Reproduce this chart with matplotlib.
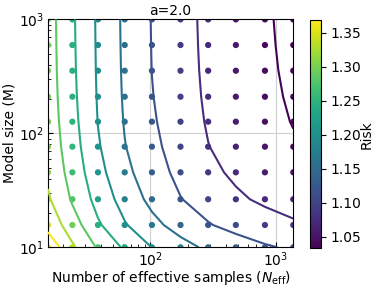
import numpy as np
import matplotlib
matplotlib.use("Agg")
import matplotlib.pyplot as plt
from matplotlib.colors import Normalize

# Effective sample counts (x) and model sizes (y) of the grid
n_eff = [15.2, 23.8, 38.1, 62.3, 102.8, 173.8, 289, 481, 821, 1383]
model_size = [10, 15.7, 26.4, 45.5, 76.4, 126.6, 209.7, 354.6, 596, 1000]

# Risk values, one row per model size (bottom row = M=10)
risk_m10 = [1.385, 1.3255, 1.2745, 1.2326, 1.1993, 1.1722, 1.1520, 1.1363, 1.1236, 1.1141]
risk_m16 = [1.3454, 1.2957, 1.2447, 1.2028, 1.1695, 1.1424, 1.1222, 1.1065, 1.0938, 1.0843]
risk_m26 = [1.3242, 1.2745, 1.2235, 1.1816, 1.1483, 1.1212, 1.1010, 1.0853, 1.0726, 1.0631]
risk_m46 = [1.3112, 1.2615, 1.2105, 1.1686, 1.1353, 1.1082, 1.0880, 1.0723, 1.0596, 1.0501]
risk_m76 = [1.3039, 1.2542, 1.2032, 1.1613, 1.1280, 1.1009, 1.0807, 1.0650, 1.0523, 1.0428]
risk_m127 = [1.2997, 1.2500, 1.1990, 1.1571, 1.1238, 1.0967, 1.0765, 1.0608, 1.0481, 1.0386]
risk_m210 = [1.2971, 1.2474, 1.1964, 1.1545, 1.1212, 1.0941, 1.0739, 1.0582, 1.0455, 1.0360]
risk_m355 = [1.2955, 1.2458, 1.1948, 1.1529, 1.1196, 1.0925, 1.0723, 1.0566, 1.0439, 1.0344]
risk_m596 = [1.2946, 1.2449, 1.1939, 1.1520, 1.1187, 1.0916, 1.0714, 1.0557, 1.0430, 1.0335]
risk_m1000 = [1.2940, 1.2443, 1.1933, 1.1514, 1.1181, 1.0910, 1.0708, 1.0551, 1.0424, 1.0329]

contour_levels = [1.04, 1.08, 1.12, 1.16, 1.20, 1.24, 1.28, 1.32, 1.36]
colorbar_range = (1.033, 1.369)

title = "a=2.0"
xlabel = r"Number of effective samples ($N_{\rm eff}$)"
ylabel = "Model size (M)"
cbar_label = "Risk"

risk = np.array([risk_m10, risk_m16, risk_m26, risk_m46, risk_m76,
                 risk_m127, risk_m210, risk_m355, risk_m596, risk_m1000])
X, Y = np.meshgrid(n_eff, model_size)

fig = plt.figure(figsize=(3.74, 2.88), dpi=100)
ax = fig.add_axes([0.1283, 0.1413, 0.6559, 0.7913])
cax = fig.add_axes([0.8289, 0.1378, 0.0286, 0.7928])

norm = Normalize(vmin=colorbar_range[0], vmax=colorbar_range[1])
sc = ax.scatter(X.ravel(), Y.ravel(), c=risk.ravel(), cmap="viridis",
                norm=norm, s=12, zorder=2)
ax.contour(X, Y, risk, levels=contour_levels, cmap="viridis",
           linewidths=1.5, zorder=3)

ax.set_xscale("log")
ax.set_yscale("log")
ax.set_xlim(n_eff[0], n_eff[-1])
ax.set_ylim(model_size[0], model_size[-1])
ax.grid(True, which="major", color="#d0d0d0", linewidth=0.8)
ax.set_axisbelow(True)
ax.tick_params(which="both", direction="in", pad=2.5)
ax.set_title(title, fontsize=10, pad=3)
ax.set_xlabel(xlabel, fontsize=10, labelpad=-0.5)
ax.set_ylabel(ylabel, fontsize=10, labelpad=2)

cb = fig.colorbar(sc, cax=cax)
cb.set_label(cbar_label, fontsize=10, labelpad=-1.5)

fig.savefig("out.png", dpi=100)
